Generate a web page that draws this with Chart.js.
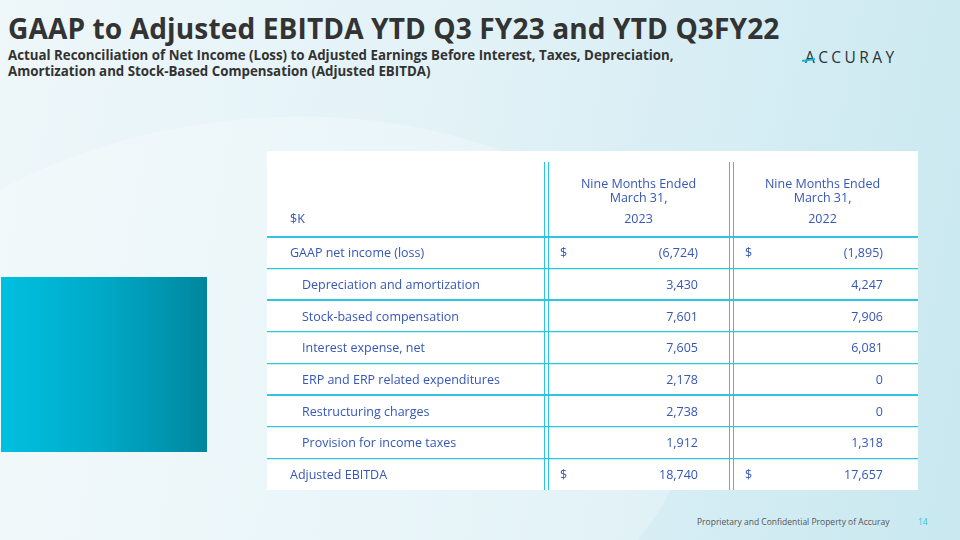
<!DOCTYPE html>
<html>
<head>
<meta charset="utf-8">
<script src="https://cdn.jsdelivr.net/npm/chart.js@4.4.0/dist/chart.umd.min.js"></script>
<style>
  html, body { margin: 0; padding: 0; }
  body {
    width: 960px; height: 540px; position: relative; overflow: hidden;
    font-family: "Open Sans", sans-serif;
    background: linear-gradient(100deg, #eef7fa 0%, #e2f2f7 45%, #c9e8f0 100%);
  }
  .sweep {
    position: absolute; left: -200px; top: 120px; width: 900px; height: 600px;
    border-radius: 50%; background: rgba(255,255,255,0.25);
    transform: rotate(-8deg);
  }
  h1 {
    position: absolute; left: 8px; top: 9px; margin: 0;
    font-size: 28.1px; font-weight: 700; color: #333; letter-spacing: 0.1px;
  }
  .sub {
    position: absolute; left: 8px; top: 47px; margin: 0;
    font-size: 13.3px; font-weight: 700; color: #333; line-height: 16px;
  }
  .logo {
    position: absolute; left: 805px; top: 46px;
    font-size: 15.5px; letter-spacing: 3.4px; color: #2b3238; font-weight: 400;
  }
  .logo i {
    position: absolute; left: -3px; top: 13px; width: 13px; height: 1.5px;
    background: #12b5d2; transform: rotate(-8deg);
  }
  .teal {
    position: absolute; left: 1px; top: 277px; width: 206px; height: 175px;
    background: linear-gradient(90deg, #00c0e0 0%, #00a9c6 50%, #00869e 100%);
  }
  .panel {
    position: absolute; left: 267px; top: 151px; width: 651px; height: 339px;
    background: #fff;
  }
  .foot {
    position: absolute; left: 697px; top: 516px; font-size: 8.5px; color: #555;
  }
  .pg {
    position: absolute; left: 918px; top: 516px; font-size: 8.5px; color: #2cc3df;
  }
</style>
</head>
<body>
<div class="sweep"></div>
<h1>GAAP to Adjusted EBITDA YTD Q3 FY23 and YTD Q3FY22</h1>
<p class="sub">Actual Reconciliation of Net Income (Loss) to Adjusted Earnings Before Interest, Taxes, Depreciation,<br>Amortization and Stock-Based Compensation (Adjusted EBITDA)</p>
<div class="logo"><i></i>ACCURAY</div>
<div class="teal"></div>
<div class="panel"><canvas id="tabla"></canvas></div>
<div class="foot">Proprietary and Confidential Property of Accuray</div>
<div class="pg">14</div>

<script>
const filas = [
  'GAAP net income (loss)',
  'Depreciation and amortization',
  'Stock-based compensation',
  'Interest expense, net',
  'ERP and ERP related expenditures',
  'Restructuring charges',
  'Provision for income taxes',
  'Adjusted EBITDA'
];
const sangria = [false, true, true, true, true, true, true, false];
const conDolar = [true, false, false, false, false, false, false, true];
const valores2023 = [-6724, 3430, 7601, 7605, 2178, 2738, 1912, 18740];
const valores2022 = [-1895, 4247, 7906, 6081, 0, 0, 1318, 17657];
const encabezados = ['Nine Months Ended', 'March 31,'];
const anios = ['2023', '2022'];
const unidad = '$K';

const AZUL = '#3557b7';
const CIAN = '#2cc6df';

function formato(v) {
  const s = Math.abs(v).toLocaleString('en-US');
  return v < 0 ? '(' + s + ')' : s;
}

// columnas en unidades del eje x (0..651)
const lineasCol = [277, 462];

const pluginTabla = {
  id: 'pluginTabla',
  afterDraw(chart) {
    const ctx = chart.ctx;
    const x = chart.scales.x;
    const y = chart.scales.y;
    const area = chart.chartArea;
    ctx.save();

    // lineas verticales dobles
    ctx.strokeStyle = CIAN;
    ctx.lineWidth = 1;
    lineasCol.forEach(c => {
      [c, c + 4].forEach(cc => {
        const px = Math.round(x.getPixelForValue(cc)) + 0.5;
        ctx.beginPath();
        ctx.moveTo(px, 11);
        ctx.lineTo(px, area.bottom);
        ctx.stroke();
      });
    });

    ctx.font = '12.5px "Open Sans", sans-serif';
    ctx.fillStyle = AZUL;
    ctx.textBaseline = 'middle';

    // encabezado
    const centros = [(lineasCol[0] + 4 + lineasCol[1]) / 2, (lineasCol[1] + 4 + 651) / 2 - 3];
    ctx.textAlign = 'left';
    ctx.fillText(unidad, x.getPixelForValue(23), area.top - 18);
    ctx.textAlign = 'center';
    centros.forEach((c, i) => {
      const px = x.getPixelForValue(c);
      ctx.fillText(encabezados[0], px, area.top - 53);
      ctx.fillText(encabezados[1], px, area.top - 39);
      ctx.fillText(anios[i], px, area.top - 18);
    });

    // celdas
    filas.forEach((f, i) => {
      const py = y.getPixelForValue(i) + 1;
      ctx.textAlign = 'left';
      ctx.fillText(f, x.getPixelForValue(sangria[i] ? 35 : 23), py);
      if (conDolar[i]) {
        ctx.fillText('$', x.getPixelForValue(lineasCol[0] + 16), py);
        ctx.fillText('$', x.getPixelForValue(lineasCol[1] + 16), py);
      }
      ctx.textAlign = 'right';
      ctx.fillText(formato(valores2023[i]), x.getPixelForValue(431), py);
      ctx.fillText(formato(valores2022[i]), x.getPixelForValue(616), py);
    });
    ctx.restore();
  }
};

new Chart(document.getElementById('tabla'), {
  type: 'bar',
  data: {
    labels: filas,
    datasets: [{ data: [], indexAxis: 'y' }]
  },
  options: {
    responsive: true,
    maintainAspectRatio: false,
    animation: false,
    indexAxis: 'y',
    layout: { padding: { top: 86, left: 0, right: 0, bottom: 0 } },
    plugins: { legend: { display: false }, tooltip: { enabled: false } },
    scales: {
      x: { type: 'linear', min: 0, max: 651, display: false },
      y: {
        type: 'category',
        offset: true,
        ticks: { display: false },
        border: { display: false },
        grid: {
          offset: true,
          drawTicks: false,
          // la ultima linea (contexto sin indice) no se dibuja
          color: (c) => (c.type !== 'tick' || c.index === undefined) ? 'rgba(0,0,0,0)' : CIAN,
          lineWidth: (c) => (c.index === 0 || c.index === 2 || c.index === 5) ? 2 : 1.2
        }
      }
    }
  },
  plugins: [pluginTabla]
});
</script>
</body>
</html>
